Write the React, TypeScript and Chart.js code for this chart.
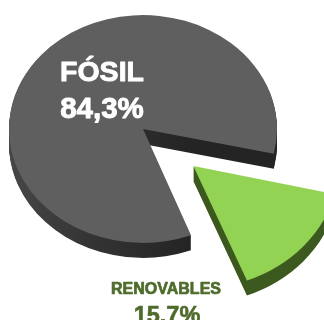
import React, { useEffect, useRef } from "react";
import { Chart, registerables } from "chart.js";

Chart.register(...registerables);

const categories = ["RENOVABLES", "FÓSIL"];
const shares = [15.7, 84.3];
const shareLabels = ["15.7%", "84,3%"];
const topColors = ["#93d354", "#5f5f5f"];
const sliceOffsets = [266, 0];

const WIDTH = 324;
const HEIGHT = 320;
const CENTER_Y = 129;
const SQUASH = 0.85;
const DEPTH = 15;

const tiltTransform = (ctx: CanvasRenderingContext2D, chart: any, dy: number) => {
  const midY = (chart.chartArea.top + chart.chartArea.bottom) / 2;
  ctx.translate(0, CENTER_Y + dy);
  ctx.scale(1, SQUASH);
  ctx.translate(0, -midY);
};

const heavyText = (ctx: CanvasRenderingContext2D, text: string, x: number, y: number, weight: number) => {
  ctx.lineWidth = weight;
  ctx.lineJoin = "round";
  ctx.strokeStyle = ctx.fillStyle as string;
  ctx.strokeText(text, x, y);
  ctx.fillText(text, x, y);
};

// Extrudes the flat slices into a tilted disc and writes the captions.
const tiltedPie = {
  id: "tiltedPie",
  beforeDatasetsDraw(chart: any) {
    const ctx: CanvasRenderingContext2D = chart.ctx;
    const arcs = chart.getDatasetMeta(0).data;

    const greySide = ctx.createLinearGradient(9, 0, 190, 0);
    greySide.addColorStop(0, "#474747");
    greySide.addColorStop(0.45, "#343434");
    greySide.addColorStop(1, "#242424");
    const sideColors = ["#3d5a20", greySide];

    for (let dy = DEPTH; dy >= 1; dy--) {
      ctx.save();
      tiltTransform(ctx, chart, dy);
      arcs.forEach((arc: any, i: number) => {
        const base = arc.options;
        arc.options = { ...base, backgroundColor: sideColors[i], borderWidth: 0 };
        arc.draw(ctx);
        arc.options = base;
      });
      ctx.restore();
    }
    ctx.save();
    tiltTransform(ctx, chart, 0);
  },
  afterDatasetsDraw(chart: any) {
    const ctx: CanvasRenderingContext2D = chart.ctx;
    ctx.restore();
    ctx.save();
    ctx.textAlign = "center";
    ctx.textBaseline = "alphabetic";
    ctx.fillStyle = "#ffffff";
    ctx.font = 'bold 28.5px "Liberation Sans"';
    heavyText(ctx, categories[1], 102, 81, 0.9);
    ctx.font = 'bold 29.5px "Liberation Sans"';
    heavyText(ctx, shareLabels[1], 102, 118, 0.9);
    ctx.fillStyle = "#4f6b2c";
    ctx.font = 'bold 16px "Liberation Sans"';
    heavyText(ctx, categories[0], 166, 294, 0.7);
    ctx.font = 'bold 23.5px "Liberation Sans"';
    heavyText(ctx, shareLabels[0], 167, 323, 0.6);
    ctx.restore();
  },
};

export default function App() {
  const canvasRef = useRef<HTMLCanvasElement>(null);

  useEffect(() => {
    const chart = new Chart(canvasRef.current!, {
      type: "pie",
      data: {
        labels: categories,
        datasets: [
          {
            data: shares,
            backgroundColor: topColors,
            borderWidth: 0,
            offset: sliceOffsets,
            radius: 134,
            clip: false,
          } as any,
        ],
      },
      options: {
        animation: false,
        responsive: false,
        rotation: 102.5,
        layout: { padding: { left: 9, right: 47, top: 0, bottom: 0 } },
        plugins: { legend: { display: false }, tooltip: { enabled: false } },
      },
      plugins: [tiltedPie],
    });
    return () => chart.destroy();
  }, []);

  return (
    <div style={{ position: "absolute", left: 0, top: 0, width: WIDTH, height: HEIGHT, overflow: "hidden", background: "#fff" }}>
      <canvas ref={canvasRef} width={WIDTH} height={HEIGHT} style={{ display: "block" }} />
    </div>
  );
}
